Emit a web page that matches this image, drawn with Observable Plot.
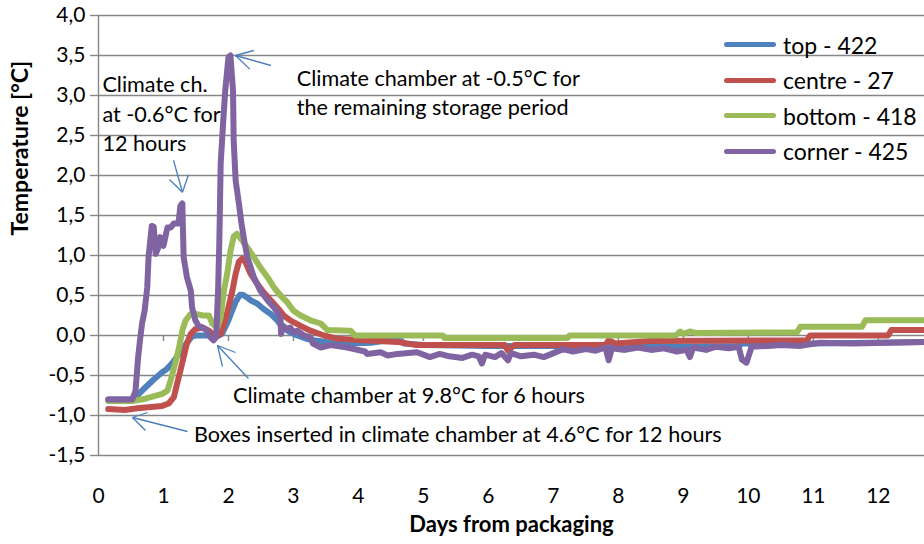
<!DOCTYPE html>
<html>
<head>
<meta charset="utf-8">
<script src="https://cdn.jsdelivr.net/npm/d3@7"></script>
<script src="https://cdn.jsdelivr.net/npm/@observablehq/plot@0.6"></script>
<style>
  html, body { margin: 0; padding: 0; background: #fff; }
  #wrap { position: relative; width: 924px; height: 544px; overflow: hidden; font-family: Lato, "Open Sans", sans-serif; }
  #legend { position: absolute; left: 724px; top: 27px; }
  .row { height: 35.5px; display: flex; align-items: center; font-size: 23px; color: #000; white-space: nowrap; }
  .sw { width: 52px; height: 5px; border-radius: 3px; margin-right: 7px; }
</style>
</head>
<body>
<div id="wrap"><div id="legend"></div></div>
<script>
// ---- data (day, °C) ----
const seriesNames = ["top - 422", "centre - 27", "bottom - 418", "corner - 425"];
const seriesColors = ["#4F81BD", "#C0504D", "#9BBB59", "#8064A2"];

const top422 = [[0.15,-0.80],[0.5,-0.80],[0.55,-0.78],[0.62,-0.73],[0.72,-0.65],[0.85,-0.55],[0.98,-0.46],[1.05,-0.42],[1.13,-0.35],[1.24,-0.23],[1.31,-0.15],[1.39,-0.06],[1.44,-0.01],[1.5,0.0],[1.85,0.0],[1.9,0.02],[2.0,0.19],[2.05,0.30],[2.11,0.42],[2.18,0.51],[2.22,0.51],[2.28,0.48],[2.34,0.44],[2.44,0.40],[2.54,0.33],[2.65,0.27],[2.75,0.19],[2.83,0.10],[2.95,0.04],[3.06,0.0],[3.2,-0.04],[3.31,-0.06],[3.5,-0.08],[3.83,-0.10],[4.2,-0.09],[4.45,-0.06],[4.65,-0.06],[4.7,-0.10],[5.0,-0.12],[6.0,-0.13],[7.0,-0.13],[8.0,-0.13],[9.0,-0.14],[9.85,-0.13],[9.9,-0.10],[10.0,-0.10],[10.05,-0.12],[11.0,-0.10],[12.71,-0.08]];

const centre27 = [[0.15,-0.92],[0.4,-0.93],[0.6,-0.91],[0.72,-0.90],[0.98,-0.88],[1.08,-0.85],[1.16,-0.77],[1.21,-0.60],[1.26,-0.44],[1.31,-0.27],[1.36,-0.10],[1.42,0.02],[1.49,0.08],[1.6,0.10],[1.7,0.06],[1.8,-0.02],[1.88,0.02],[1.95,0.19],[2.0,0.35],[2.06,0.56],[2.11,0.77],[2.16,0.92],[2.21,0.96],[2.26,0.92],[2.34,0.77],[2.44,0.65],[2.54,0.54],[2.65,0.44],[2.75,0.35],[2.85,0.25],[2.95,0.19],[3.11,0.12],[3.26,0.06],[3.47,0.0],[3.67,-0.04],[4.08,-0.06],[4.6,-0.08],[4.9,-0.12],[6.25,-0.12],[6.3,-0.19],[6.4,-0.12],[7.8,-0.12],[7.85,-0.06],[7.95,-0.10],[8.5,-0.07],[10.9,-0.06],[10.95,0.0],[12.15,0.0],[12.2,0.07],[12.71,0.07]];

const bottom418 = [[0.15,-0.82],[0.52,-0.82],[0.72,-0.79],[0.98,-0.73],[1.06,-0.69],[1.11,-0.56],[1.18,-0.35],[1.24,-0.15],[1.29,0.06],[1.34,0.19],[1.42,0.27],[1.5,0.27],[1.6,0.25],[1.7,0.25],[1.75,0.15],[1.83,0.10],[1.88,0.23],[1.93,0.56],[1.98,0.77],[2.03,1.05],[2.08,1.24],[2.13,1.27],[2.21,1.19],[2.29,1.10],[2.39,0.98],[2.49,0.85],[2.6,0.73],[2.7,0.60],[2.8,0.50],[2.9,0.42],[3.0,0.31],[3.11,0.25],[3.26,0.19],[3.42,0.15],[3.52,0.07],[3.88,0.06],[3.95,0.0],[5.3,0.0],[5.32,-0.03],[7.22,-0.03],[7.25,0.0],[8.88,0.0],[8.95,0.05],[9.0,0.02],[9.1,0.05],[9.2,0.03],[10.75,0.04],[10.8,0.11],[11.75,0.11],[11.8,0.19],[12.71,0.19]];

const corner425 = [[0.15,-0.80],[0.52,-0.80],[0.57,-0.69],[0.61,-0.27],[0.64,-0.05],[0.67,0.15],[0.71,0.31],[0.75,0.60],[0.77,0.98],[0.82,1.37],[0.85,1.36],[0.88,1.02],[0.92,1.10],[0.95,1.23],[1.0,1.12],[1.06,1.35],[1.11,1.35],[1.16,1.40],[1.23,1.40],[1.26,1.62],[1.29,1.65],[1.30,1.31],[1.31,0.98],[1.36,0.73],[1.42,0.56],[1.44,0.35],[1.49,0.19],[1.54,0.12],[1.6,0.10],[1.67,0.06],[1.72,-0.02],[1.77,-0.06],[1.81,-0.02],[1.84,0.56],[1.86,1.20],[1.88,2.15],[1.92,2.69],[1.95,3.06],[2.0,3.48],[2.03,3.50],[2.07,3.06],[2.08,2.44],[2.11,1.94],[2.16,1.65],[2.2,1.40],[2.25,1.15],[2.29,0.98],[2.39,0.73],[2.49,0.56],[2.6,0.44],[2.7,0.35],[2.77,0.27],[2.8,0.22],[2.81,0.02],[2.84,0.12],[2.9,0.08],[2.95,0.10],[3.0,0.04],[3.06,0.06],[3.16,0.0],[3.26,-0.02],[3.3,-0.10],[3.42,-0.15],[3.57,-0.12],[3.83,-0.15],[4.1,-0.20],[4.13,-0.23],[4.34,-0.21],[4.45,-0.25],[4.6,-0.23],[4.9,-0.21],[5.1,-0.27],[5.25,-0.23],[5.4,-0.26],[5.6,-0.28],[5.75,-0.24],[5.85,-0.26],[5.9,-0.35],[5.95,-0.24],[6.1,-0.27],[6.2,-0.22],[6.3,-0.31],[6.35,-0.22],[6.5,-0.26],[6.7,-0.24],[6.85,-0.27],[7.0,-0.22],[7.15,-0.17],[7.3,-0.20],[7.5,-0.17],[7.65,-0.19],[7.8,-0.15],[7.85,-0.31],[7.9,-0.16],[8.1,-0.18],[8.3,-0.15],[8.5,-0.18],[8.7,-0.16],[8.9,-0.20],[9.05,-0.18],[9.1,-0.27],[9.15,-0.15],[9.35,-0.18],[9.5,-0.14],[9.7,-0.16],[9.85,-0.14],[9.9,-0.30],[9.97,-0.34],[10.05,-0.14],[10.3,-0.13],[10.5,-0.12],[10.8,-0.13],[11.1,-0.09],[11.6,-0.10],[12.71,-0.08]];

const xTicks = [0,1,2,3,4,5,6,7,8,9,10,11,12];
const yTicks = [-1.5,-1.0,-0.5,0.0,0.5,1.0,1.5,2.0,2.5,3.0,3.5,4.0];

// annotation texts: [day, °C, text]
const notes = [
  [0.06, 3.125, "Climate ch."],
  [0.06, 2.75, "at -0.6°C for"],
  [0.06, 2.39, "12 hours"],
  [3.05, 3.20, "Climate chamber at -0.5°C for"],
  [3.05, 2.84, "the remaining storage period"],
  [2.07, -0.76, "Climate chamber at 9.8°C for 6 hours"],
  [1.47, -1.25, "Boxes inserted in climate chamber at 4.6°C for 12 hours"]
];
// arrow segments: [day1, °C1, day2, °C2] (shafts and heads)
const arrowSegs = [
  [1.154, 2.19, 1.292, 1.79], [1.092, 1.95, 1.292, 1.79], [1.385, 2.01, 1.292, 1.79],
  [2.654, 3.375, 2.108, 3.50], [2.39, 3.5625, 2.108, 3.50], [2.328, 3.33, 2.108, 3.50],
  [2.308, -0.5375, 1.831, -0.125], [2.108, -0.2125, 1.831, -0.125], [1.908, -0.3875, 1.831, -0.125],
  [1.369, -1.20, 0.523, -1.025], [0.754, -0.9625, 0.523, -1.025], [0.723, -1.1875, 0.523, -1.025]
];

const allSeries = [top422, centre27, bottom418, corner425];
const rows = allSeries.flatMap((s, i) => s.map(([d, t]) => ({day: d, temp: t, series: seriesNames[i]})));

const fmt = d => d.toFixed(1).replace(".", ",");
const grid = "#868686";

const chart = Plot.plot({
  width: 924, height: 544,
  marginLeft: 98, marginRight: 0, marginTop: 15, marginBottom: 89,
  style: {fontFamily: "Lato, 'Open Sans', sans-serif", fontSize: "21px", color: "#000", background: "#fff"},
  x: {domain: [0, 12.71]},
  y: {domain: [-1.5, 4.0]},
  color: {domain: seriesNames, range: seriesColors},
  marks: [
    Plot.ruleY(yTicks, {stroke: grid, strokeWidth: 1.4}),
    Plot.ruleX([0], {stroke: grid, strokeWidth: 1.4}),
    Plot.ruleX(xTicks.slice(1), {y1: 0, y2: -0.075, stroke: grid, strokeWidth: 1.4}),
    Plot.axisY(yTicks, {tickSize: 8, tickPadding: 5, stroke: grid, strokeWidth: 1.4, tickFormat: fmt, label: null, fontSize: 21}),
    Plot.axisX(xTicks, {tickSize: 0, tickPadding: 33, label: null, fontSize: 21}),
    Plot.text(["Days from packaging"], {frameAnchor: "bottom", dy: 76, fontWeight: "bold", fontSize: 22}),
    Plot.text(["Temperature [°C]"], {frameAnchor: "left", dx: -78, rotate: -90, fontWeight: "bold", fontSize: 23}),
    Plot.line(rows, {x: "day", y: "temp", z: "series", stroke: "series", strokeWidth: 6, strokeLinejoin: "round", strokeLinecap: "round", curve: "linear"}),
    Plot.text(notes, {x: d => d[0], y: d => d[1], text: d => d[2], textAnchor: "start", fontSize: 21.6, fill: "#000"}),
    Plot.link(arrowSegs, {x1: d => d[0], y1: d => d[1], x2: d => d[2], y2: d => d[3], stroke: "#4A7EBB", strokeWidth: 1.3})
  ]
});
document.getElementById("wrap").prepend(chart);

const legend = document.getElementById("legend");
seriesNames.forEach((n, i) => {
  const r = document.createElement("div");
  r.className = "row";
  r.innerHTML = `<span class="sw" style="background:${seriesColors[i]}"></span><span>${n}</span>`;
  legend.appendChild(r);
});
</script>
</body>
</html>
